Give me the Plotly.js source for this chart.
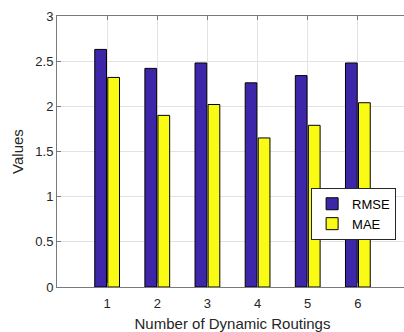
<!DOCTYPE html>
<html>
<head>
<meta charset="utf-8">
<script src="https://cdn.plot.ly/plotly-3.0.1.min.js"></script>
<style>
html,body{margin:0;padding:0;overflow:hidden;background:#fff;}
#chart{width:408px;height:332px;}
</style>
</head>
<body>
<div id="chart"></div>
<script>
const categories = [1, 2, 3, 4, 5, 6];
const rmseValues = [2.63, 2.42, 2.48, 2.26, 2.34, 2.48];
const maeValues = [2.32, 1.90, 2.02, 1.65, 1.79, 2.04];
const yTickValues = [0, 0.5, 1, 1.5, 2, 2.5, 3];
const yTickLabels = ['0', '0.5', '1', '1.5', '2', '2.5', '3'];

const font = 'Liberation Sans, Arial, Helvetica, sans-serif';
const textColor = '#262626';

const traces = [
  {
    type: 'bar', name: 'RMSE', x: categories, y: rmseValues,
    marker: {color: '#3E26A8', line: {color: '#000000', width: 1}}
  },
  {
    type: 'bar', name: 'MAE', x: categories, y: maeValues,
    marker: {color: '#F9FB15', line: {color: '#000000', width: 1}}
  }
];

const layout = {
  width: 408, height: 332,
  margin: {l: 57, r: 0, t: 16, b: 45},
  paper_bgcolor: '#ffffff', plot_bgcolor: '#ffffff',
  font: {family: font, size: 13, color: textColor},
  barmode: 'group', bargap: 0.48, bargroupgap: 0.1,
  xaxis: {
    range: [0, 7], tickmode: 'array', tickvals: categories,
    ticktext: categories.map(String),
    showgrid: true, gridcolor: '#e3e3e3', gridwidth: 1,
    zeroline: false, showline: true, linecolor: '#7a7a7a', linewidth: 1,
    mirror: 'ticks', ticks: 'inside', ticklen: 4, tickcolor: '#7a7a7a',
    ticklabelstandoff: 4,
    tickfont: {size: 13, color: textColor},
    title: {text: 'Number of Dynamic Routings', font: {size: 15, color: textColor}, standoff: 8}
  },
  yaxis: {
    range: [0, 3], tickmode: 'array', tickvals: yTickValues, ticktext: yTickLabels,
    showgrid: true, gridcolor: '#e3e3e3', gridwidth: 1,
    zeroline: false, showline: true, linecolor: '#7a7a7a', linewidth: 1,
    mirror: 'ticks', ticks: 'inside', ticklen: 4, tickcolor: '#7a7a7a',
    tickfont: {size: 13, color: textColor},
    title: {text: 'Values', font: {size: 15, color: textColor}, standoff: 8}
  },
  showlegend: true,
  legend: {
    x: 0.724, y: 0.366, xanchor: 'left', yanchor: 'top',
    bgcolor: '#ffffff', bordercolor: '#262626', borderwidth: 1,
    font: {size: 13, color: '#000000'},
    tracegroupgap: 0, itemwidth: 30
  }
};

Plotly.newPlot('chart', traces, layout, {displayModeBar: false, staticPlot: true});
</script>
</body>
</html>
